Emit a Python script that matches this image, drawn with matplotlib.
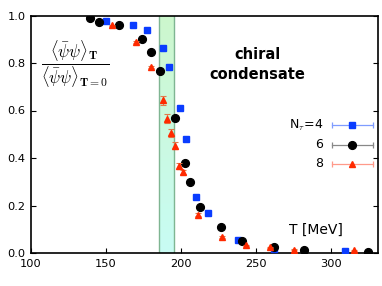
import numpy as np
import matplotlib
matplotlib.use("Agg")
import matplotlib.pyplot as plt
from matplotlib.colors import LinearSegmentedColormap

plt.rcParams['font.family'] = ['DejaVu Sans']
plt.rcParams['mathtext.fontset'] = 'cm'

# Data
T_nt4 = [150, 168, 177, 188, 192, 199, 203, 210, 218, 238, 262, 309]
y_nt4 = [0.978, 0.959, 0.940, 0.864, 0.782, 0.612, 0.478, 0.234, 0.170, 0.053, 0.017, 0.007]

T_nt6 = [139, 145, 158.5, 174, 180, 186, 195.7, 202.7, 206, 212.5, 226.7, 240.4, 261.6, 282, 324.4]
y_nt6 = [0.989, 0.974, 0.959, 0.900, 0.846, 0.768, 0.567, 0.380, 0.299, 0.194, 0.108, 0.050, 0.025, 0.013, 0.004]

T_nt8 = [154, 170, 180, 188, 190.7, 193.3, 195.8, 198.7, 201.1, 211.6, 227, 243, 259, 275, 315]
y_nt8 = [0.958, 0.887, 0.782, 0.643, 0.566, 0.505, 0.452, 0.365, 0.341, 0.162, 0.069, 0.032, 0.024, 0.014, 0.011]
e_nt8 = [0.004, 0.004, 0.004, 0.018, 0.018, 0.018, 0.016, 0.012, 0.010, 0.005, 0.004, 0.003, 0.003, 0.002, 0.002]

band_T = (185, 195)
legend_labels = [r'N$_\tau$=4', '6', '8']
xticks = [100, 150, 200, 250, 300]
yticks = [0.0, 0.2, 0.4, 0.6, 0.8, 1.0]

blue = '#0a3cff'
red = '#ff2a00'

fig = plt.figure(figsize=(3.82, 2.86), dpi=100)
ax = fig.add_axes([31/382, 1-253/286, (377.7-31)/382, (253-15.5)/286])
ax.set_xlim(100, 331)
ax.set_ylim(0, 1.0)

# band with vertical gradient (cyan bottom, green top)
cmap = LinearSegmentedColormap.from_list('band', ['#c8fcf4', '#cdf7cd'])
grad = np.linspace(0, 1, 100).reshape(-1, 1)
ax.imshow(grad, extent=[band_T[0], band_T[1], 0, 1], origin='lower', aspect='auto',
          cmap=cmap, zorder=0.5)
for xv in band_T:
    ax.axvline(xv, color='#7fb592', lw=1.0, zorder=0.6)

ax.plot(T_nt4, y_nt4, 's', color=blue, ms=5.0, mec=blue, zorder=3, ls='none')
ax.plot(T_nt6, y_nt6, 'o', color='black', ms=5.6, zorder=3, ls='none')
ax.errorbar(T_nt8, y_nt8, yerr=e_nt8, fmt='^', color=red, ms=4.8, ecolor='#e07a4a',
            elinewidth=0.8, capsize=2, capthick=0.8, zorder=3)

ax.set_xticks(xticks)
ax.set_yticks(yticks)
ax.set_yticklabels([f'{v:.1f}' for v in yticks])
ax.tick_params(direction='in', length=3.5, width=0.8, labelsize=8.2, top=False, right=True, pad=4)
for s in ax.spines.values():
    s.set_linewidth(1.2)

# y label fraction
fig.text(75/382, 1-64/286,
         r'$\dfrac{\langle\bar{\psi}\psi\rangle_{\mathbf{T}}}{\langle\bar{\psi}\psi\rangle_{\mathbf{T=0}}}$',
         fontsize=12, ha='center', va='center')

ax.text(250.7, 0.836, 'chiral', fontsize=10.5, fontweight='bold', ha='center', va='center')
ax.text(250.7, 0.750, 'condensate', fontsize=10.5, fontweight='bold', ha='center', va='center')
ax.text(290, 0.096, 'T [MeV]', fontsize=10, ha='center', va='center')

# legend drawn manually (gnuplot style)
rows = [0.539, 0.455, 0.375]
lcols = ['#7f9cff', '#888888', '#ff9a8a']
mk = [('s', blue, 5.0), ('o', 'black', 5.6), ('^', red, 4.8)]
for yy, lab, lc, (m, c, s) in zip(rows, legend_labels, lcols, mk):
    ax.plot([0.868, 0.986], [yy, yy], color=lc, lw=0.9, transform=ax.transAxes, clip_on=False)
    ax.plot([0.868, 0.986], [yy, yy], '|', color=lc, ms=4, mew=0.9, transform=ax.transAxes, clip_on=False)
    ax.plot([0.926], [yy], m, color=c, ms=s, transform=ax.transAxes, clip_on=False)
    ax.text(0.842, yy, lab, fontsize=9, ha='right', va='center', transform=ax.transAxes)

fig.savefig('out.png', dpi=100)
